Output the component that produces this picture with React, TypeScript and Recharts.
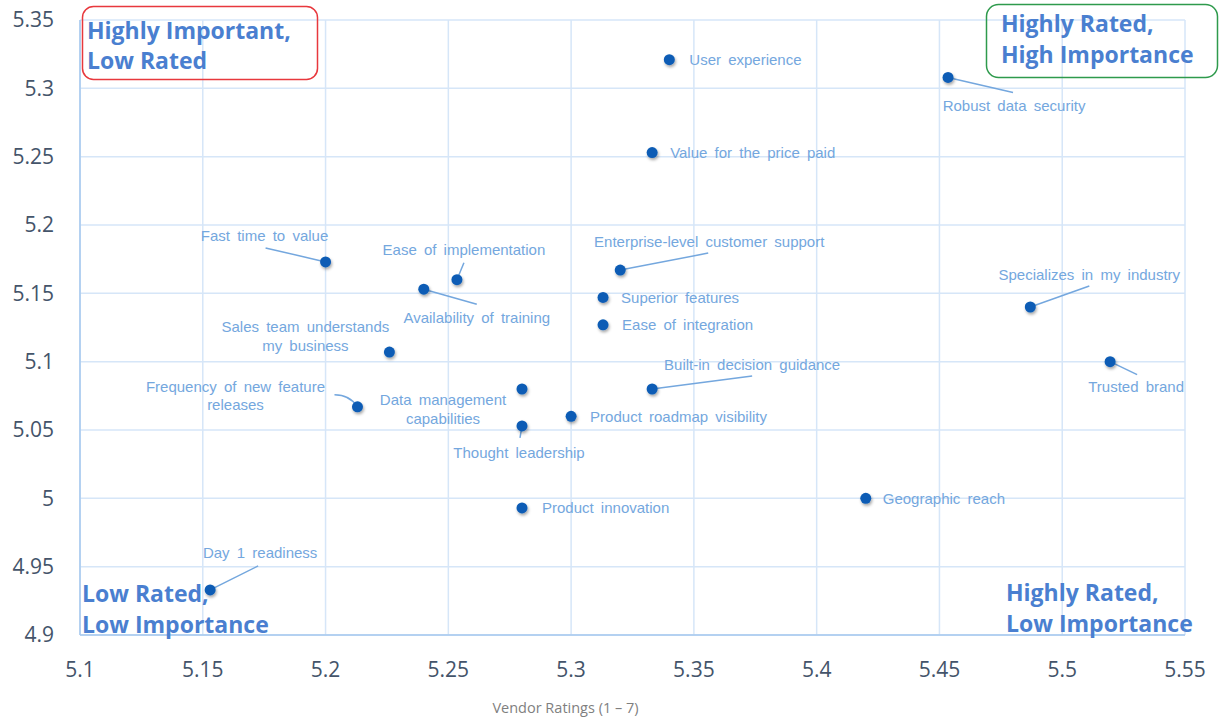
import React from 'react';
import { ScatterChart, Scatter, XAxis, YAxis, CartesianGrid } from 'recharts';

const factors = [
  'User experience',
  'Robust data security',
  'Value for the price paid',
  'Fast time to value',
  'Ease of implementation',
  'Availability of training',
  'Enterprise-level customer support',
  'Superior features',
  'Ease of integration',
  'Specializes in my industry',
  'Trusted brand',
  'Sales team understands my business',
  'Data management capabilities',
  'Built-in decision guidance',
  'Frequency of new feature releases',
  'Product roadmap visibility',
  'Thought leadership',
  'Geographic reach',
  'Product innovation',
  'Day 1 readiness',
];

const vendorRatings = [
  5.34, 5.4535, 5.333, 5.2, 5.2535, 5.24, 5.32, 5.313, 5.313, 5.487,
  5.5195, 5.226, 5.28, 5.333, 5.213, 5.3, 5.28, 5.42, 5.28, 5.153,
];

const importance = [
  5.321, 5.308, 5.253, 5.173, 5.16, 5.153, 5.167, 5.147, 5.127, 5.14,
  5.1, 5.107, 5.08, 5.08, 5.067, 5.06, 5.053, 5.0, 4.993, 4.933,
];

const xTicks = [5.1, 5.15, 5.2, 5.25, 5.3, 5.35, 5.4, 5.45, 5.5, 5.55];
const yTicks = [4.9, 4.95, 5.0, 5.05, 5.1, 5.15, 5.2, 5.25, 5.3, 5.35];

const xAxisTitle = 'Vendor Ratings (1 – 7)';

const data = factors.map((name, i) => ({ name, x: vendorRatings[i], y: importance[i] }));

// label placement (pixel offsets relative to each point) – styling only
type Lay = {
  dx: number;
  dy: number;
  anchor: 'start' | 'middle' | 'end';
  lines?: string[];
  lh?: number;
  leader?: [number, number];
  curve?: boolean;
};
const labelLayout: Record<string, Lay> = {
  'User experience': { dx: 20, dy: 0, anchor: 'start' },
  'Robust data security': { dx: 66, dy: 28, anchor: 'middle', leader: [65, 15] },
  'Value for the price paid': { dx: 18, dy: 0, anchor: 'start' },
  'Fast time to value': { dx: -61, dy: -26, anchor: 'middle', leader: [-60, -14] },
  'Ease of implementation': { dx: 7, dy: -30, anchor: 'middle', leader: [7, -17] },
  'Availability of training': { dx: 53, dy: 28, anchor: 'middle', leader: [53, 15] },
  'Enterprise-level customer support': { dx: 89, dy: -29, anchor: 'middle', leader: [88, -17] },
  'Superior features': { dx: 18, dy: 0, anchor: 'start' },
  'Ease of integration': { dx: 19, dy: 0, anchor: 'start' },
  'Specializes in my industry': { dx: 59, dy: -33, anchor: 'middle', leader: [59, -21] },
  'Trusted brand': { dx: 26, dy: 25, anchor: 'middle', leader: [27, 13] },
  'Sales team understands my business': {
    dx: -84, dy: -26, anchor: 'middle', lines: ['Sales team understands', 'my business'], lh: 19,
  },
  'Data management capabilities': {
    dx: -79, dy: 10, anchor: 'middle', lines: ['Data management', 'capabilities'], lh: 19,
  },
  'Built-in decision guidance': { dx: 100, dy: -25, anchor: 'middle', leader: [100, -13] },
  'Frequency of new feature releases': {
    dx: -122, dy: -20, anchor: 'middle', lines: ['Frequency of new feature', 'releases'], lh: 18,
    leader: [-23, -12], curve: true,
  },
  'Product roadmap visibility': { dx: 19, dy: 0, anchor: 'start' },
  'Thought leadership': { dx: -3, dy: 27, anchor: 'middle', leader: [-2, 12] },
  'Geographic reach': { dx: 17, dy: 0, anchor: 'start' },
  'Product innovation': { dx: 20, dy: 0, anchor: 'start' },
  'Day 1 readiness': { dx: 50, dy: -37, anchor: 'middle', leader: [48, -24] },
};

const LABEL_COLOR = '#74a7de';
const POINT_COLOR = '#0b5cb5';

const PointShape = (props: any) => {
  const { cx, cy, payload } = props;
  if (cx == null || cy == null) return null;
  const lay = labelLayout[payload.name] || { dx: 15, dy: 0, anchor: 'start' };
  const lines = lay.lines || [payload.name];
  const lh = lay.lh || 18;
  let leader = null;
  if (lay.leader) {
    const [lx, ly] = lay.leader;
    if (lay.curve) {
      leader = (
        <path
          d={`M${cx + lx},${cy + ly} Q${cx - 8},${cy + ly} ${cx},${cy}`}
          fill="none"
          stroke={LABEL_COLOR}
          strokeWidth={1.5}
        />
      );
    } else {
      leader = (
        <line x1={cx} y1={cy} x2={cx + lx} y2={cy + ly} stroke={LABEL_COLOR} strokeWidth={1.5} />
      );
    }
  }
  return (
    <g>
      {leader}
      <circle cx={cx} cy={cy} r={5.5} fill={POINT_COLOR} filter="url(#ptShadow)" />
      {lines.map((t, i) => (
        <text
          key={i}
          x={cx + lay.dx}
          y={cy + lay.dy + i * lh}
          textAnchor={lay.anchor}
          dominantBaseline="central"
          fontFamily="'Liberation Sans', Arial, sans-serif"
          fontSize={15}
          fill={LABEL_COLOR}
          style={{ wordSpacing: '3px' }}
        >
          {t}
        </text>
      ))}
    </g>
  );
};

const fmt = (v: number) => String(Number(v.toFixed(2)));

const QUAD_COLOR = '#4a7fd0';
const quadFont = { fontFamily: "'Open Sans', sans-serif", fontWeight: 700, fontSize: 23, fill: QUAD_COLOR } as const;

export default function App() {
  return (
    <div style={{ position: 'absolute', left: 0, top: 0, width: 1219, height: 721, background: '#fff' }}>
      <ScatterChart width={1219} height={721} margin={{ top: 20, right: 34, bottom: 0, left: 0 }}>
        <CartesianGrid stroke="#d6e6f8" strokeWidth={1.5} />
        <XAxis
          type="number"
          dataKey="x"
          domain={[5.1, 5.55]}
          ticks={xTicks}
          allowDataOverflow
          height={86}
          tickSize={0}
          tickMargin={27}
          tickFormatter={fmt}
          axisLine={{ stroke: '#a6c8ee', strokeWidth: 1.5 }}
          tick={{ fill: '#44546a', fontSize: 21, fontFamily: "'Open Sans', sans-serif" }}
          label={({ viewBox }: any) => (
            <text
              x={viewBox.x + viewBox.width / 2 - 67}
              y={viewBox.y + 72}
              textAnchor="middle"
              dominantBaseline="central"
              fontFamily="'Open Sans', sans-serif"
              fontSize={14.5}
              fill="#7f7f7f"
            >
              {xAxisTitle}
            </text>
          )}
        />
        <YAxis
          type="number"
          dataKey="y"
          domain={[4.9, 5.35]}
          ticks={yTicks}
          allowDataOverflow
          width={80}
          tickSize={0}
          tickMargin={26}
          tickFormatter={fmt}
          axisLine={{ stroke: '#a6c8ee', strokeWidth: 1.5 }}
          tick={{ fill: '#44546a', fontSize: 21, fontFamily: "'Open Sans', sans-serif" }}
        />
        <Scatter data={data} isAnimationActive={false} shape={PointShape} />
      </ScatterChart>
      <svg
        width={1219}
        height={721}
        style={{ position: 'absolute', left: 0, top: 0, pointerEvents: 'none' }}
      >
        <defs>
          <filter id="ptShadow" x="-100%" y="-100%" width="300%" height="300%">
            <feDropShadow dx="1" dy="2" stdDeviation="1.5" floodColor="#000" floodOpacity="0.35" />
          </filter>
        </defs>
        <rect x={82.5} y={6.5} width={235} height={73} rx={11} fill="none" stroke="#e8383d" strokeWidth={1.5} />
        <text x={87} y={39} {...quadFont}>Highly Important,</text>
        <text x={87} y={69} {...quadFont}>Low Rated</text>
        <rect x={986.5} y={4.5} width={231} height={73} rx={12} fill="none" stroke="#2e9a4c" strokeWidth={1.5} />
        <text x={1001} y={32} {...quadFont}>Highly Rated,</text>
        <text x={1001} y={63} {...quadFont}>High Importance</text>
        <text x={82} y={602} {...quadFont}>Low Rated,</text>
        <text x={82} y={633} {...quadFont}>Low Importance</text>
        <text x={1006} y={601} {...quadFont}>Highly Rated,</text>
        <text x={1006} y={632} {...quadFont}>Low Importance</text>
      </svg>
    </div>
  );
}
